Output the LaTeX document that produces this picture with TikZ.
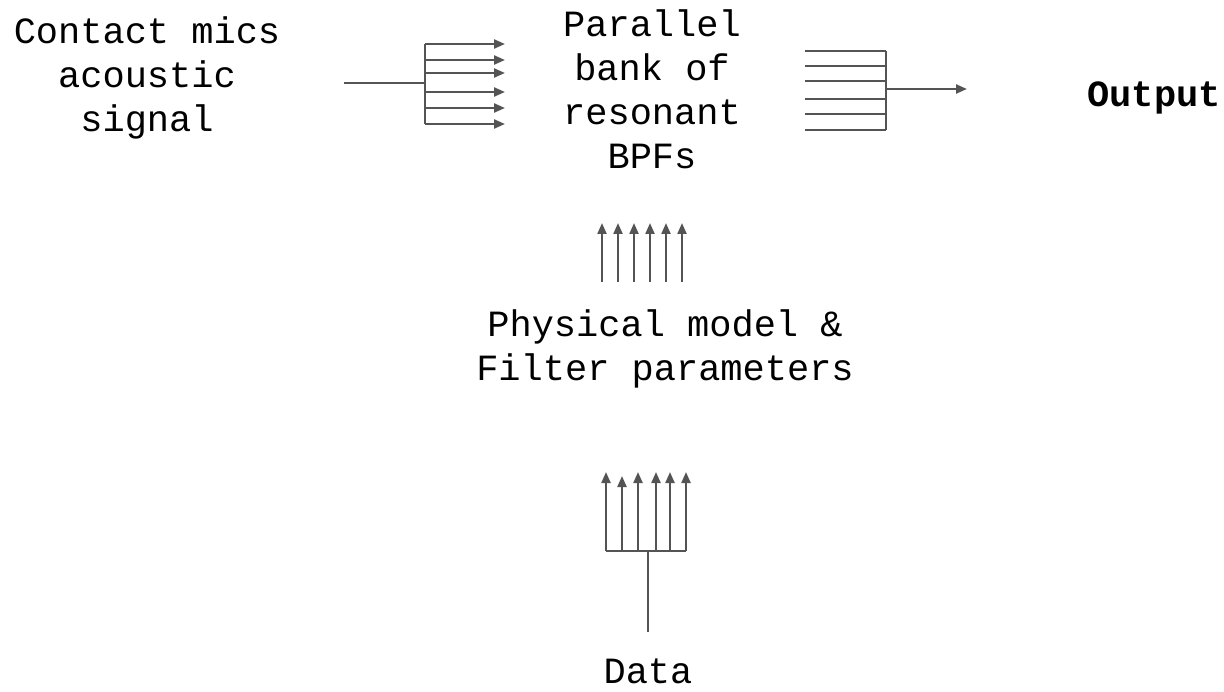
\documentclass[tikz,border=0pt]{standalone}
\usepackage{fontspec}
\setmonofont{Liberation Mono}
\usetikzlibrary{arrows.meta,positioning}

\begin{document}
\begin{tikzpicture}[x=1pt,y=-1pt]
	\tikzstyle{txt}=[align=center, inner sep=0pt, font=\ttfamily\fontsize{37}{44}\selectfont]
	\tikzstyle{wire}=[draw=black!67, line width=2.2pt]
	\tikzstyle{connect}=[wire, -{Triangle[length=11pt,width=9pt]}]
	\useasboundingbox (0,0) rectangle (1224,692);
	\node[txt] (mics) at (147,78) {Contact mics\\acoustic\\signal};
	\node[txt] (bank) at (652,89) {Parallel\\bank of\\resonant\\BPFs};
	\node[txt, font=\ttfamily\bfseries\fontsize{37}{44}\selectfont] (out) at (1154,98) {Output};
	\node[txt] (model) at (665,349) {Physical model \&\\Filter parameters};
	\node[txt] (data) at (648,671) {Data};
	% input side of the bank
	\coordinate (in) at (344,83);
	\coordinate (split) at (425,83);
	\path (in) edge [wire] (split);
	\draw[wire] (425,44) -- (425,124);
	\foreach \y in {44,60,73,92,108,124}
		\draw[connect] (425,\y) -- (505,\y);
	% output side of the bank
	\coordinate (join) at (886,89);
	\coordinate (sink) at (967,89);
	\draw[wire] (886,51) -- (886,130);
	\foreach \y in {51,66,81,99,114,130}
		\draw[wire] (805,\y) -- (886,\y);
	\path (join) edge [connect] (sink);
	% parameters into the bank
	\foreach \x in {602,618,634,650,666,682}
		\draw[connect] (\x,282) -- (\x,223);
	% data into the model
	\coordinate (root) at (648,632);
	\coordinate (fork) at (648,551);
	\path (root) edge [wire] (fork);
	\draw[wire] (606,551) -- (686,551);
	\foreach \x/\t in {606/472,622/476,638/472,656/472,670/472,686/472}
		\draw[connect] (\x,551) -- (\x,\t);
\end{tikzpicture}
\end{document}
